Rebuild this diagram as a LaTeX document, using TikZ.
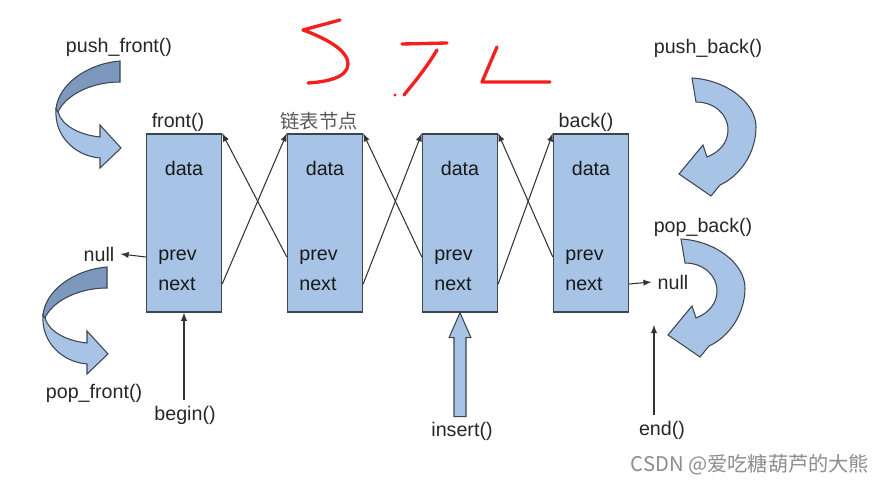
\documentclass[tikz,border=0pt]{standalone}
\usepackage{fontspec}
\setmainfont{Liberation Sans}
\newfontfamily\cjkfont{Noto Sans CJK SC}
\usepackage{xcolor}
\usetikzlibrary{arrows,positioning,calc}

\definecolor{nodeblue}{HTML}{A7C3E6}
\definecolor{twistdark}{HTML}{7C98BC}
\definecolor{edgegray}{HTML}{3E4550}
\definecolor{inkred}{HTML}{F41F1F}

\begin{document}
\begin{tikzpicture}[
    x=0.02cm, y=-0.02cm,
    every node/.style={font=\fontsize{11.2}{13}\selectfont, text=black!85},
    listnode/.style={draw=edgegray, fill=nodeblue, line width=0.8pt, minimum width=1.5cm, minimum height=3.56cm, inner sep=0pt},
    field/.style={inner sep=0pt, text=black!90},
    link/.style={-latex, line width=0.6pt, black!80},
    bigarrow/.style={draw=edgegray, fill=nodeblue, line width=0.6pt},
    stl/.style={inkred, line width=1.9pt, line cap=round, line join=round},
    twistfront/.pic={
        % lower band, then upper band on top
        \filldraw[fill=nodeblue, draw=edgegray, line width=0.6pt]
            (-64,48) .. controls (-66,75) and (-45,95) .. (-20,97) -- (-20,107) -- (1,87)
            -- (-20,64) -- (-20,76) .. controls (-40,74) and (-58,65) .. (-62,51) -- cycle;
        \filldraw[fill=twistdark, draw=edgegray, line width=0.6pt]
            (0,0) .. controls (-35,3) and (-62,25) .. (-64,48) -- (-62,51)
            .. controls (-55,35) and (-30,21) .. (0,21) -- cycle;
    },
    bendback/.pic={
        \filldraw[fill=nodeblue, draw=edgegray, line width=0.6pt]
            (0,0) .. controls (35,2) and (64,25) .. (64,49) .. controls (64,75) and (48,98) .. (28,107)
            -- (19,118) -- (-13,96) -- (11,67) -- (15,79)
            .. controls (28,74) and (36,64) .. (36,52) .. controls (36,36) and (22,24) .. (4,24) -- cycle;
    }
]
\useasboundingbox (0,0) rectangle (880,486);

% list nodes
\foreach \i/\x in {1/184,2/325,3/460,4/591}{
    \node[listnode] (n\i) at (\x,223) {};
    \node[field] (d\i) at (\x,168) {data};
    \node[field, anchor=west] (p\i) at (\x-26,257) {prev};
    \node[field, anchor=west] (nx\i) at (\x-26,284) {next};
}

% prev / next links
\foreach \i/\j in {1/2,2/3,3/4}{
    \draw[link] (n\i.east |- nx\i) -- (n\j.north west);
    \draw[link] (n\j.west |- p\j) -- (n\i.north east);
}

% labels
\node (front) at (178,122) {front()};
\node[text=black!65, font=\cjkfont\fontsize{11}{13}\selectfont] (lnode) at (319,121) {链表节点};
\node (back) at (586,122) {back()};
\node (pushf) at (119,47) {push\_front()};
\node (popf) at (94,393) {pop\_front()};
\node (pushb) at (708,48) {push\_back()};
\node (popb) at (703,227) {pop\_back()};
\node (nullL) at (99,254) {null};
\node (nullR) at (673,282) {null};
\node (begin) at (185,415) {begin()};
\node (insert) at (462,431) {insert()};
\node (endlbl) at (662,430) {end()};

\draw[link] (n1.west |- p1) -- (nullL.east);
\draw[link] (n4.east |- nx4) -- (nullR.west);
\draw[link] (n1.south |- begin.north) -- (n1.south);
\coordinate (endtip) at (654,325);
\draw[link] (endtip |- endlbl.north) -- (endtip);

% insert block arrow
\draw[bigarrow] (n3.south) -- ++(11,25) -- ++(-5,0) -- ++(0,79) -- ++(-12,0)
    -- ++(0,-79) -- ++(-5,0) -- cycle;

% curved arrows
\pic at (120,61) {twistfront};
\pic at (107,267) {twistfront};
\pic at (692,78) {bendback};
\pic at (681,239) {bendback};

% handwritten STL
\draw[stl] (340,20) -- (303,30) .. controls (325,38) and (348,50) .. (348,64)
    .. controls (348,78) and (325,82) .. (308,83);
\draw[stl] (402,44) -- (447,43);
\draw[stl] (437,50) .. controls (425,70) and (412,85) .. (404,95);
\fill[inkred] (395,95) circle (1.6);
\draw[stl] (497,47) -- (482,82) -- (550,82);

% watermark
\node[text=black!45, font=\cjkfont\fontsize{11.5}{13}\selectfont] (wm) at (750,465) {CSDN @爱吃糖葫芦的大熊};
\end{tikzpicture}
\end{document}
